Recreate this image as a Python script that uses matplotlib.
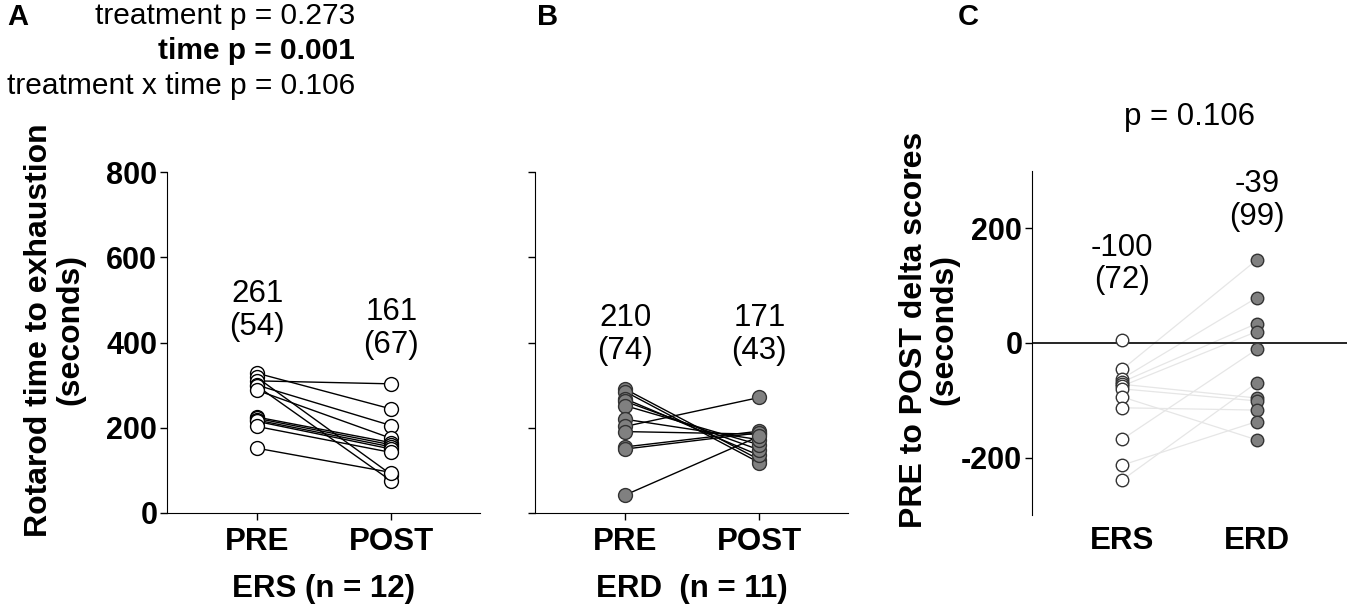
import matplotlib
matplotlib.use("Agg")
import matplotlib.pyplot as plt
import numpy as np

plt.rcParams['font.family'] = ['Liberation Sans', 'DejaVu Sans']
plt.rcParams['axes.unicode_minus'] = False

# ---- data ----
timepoints = ["PRE", "POST"]

ers_pre = [328, 318, 310, 300, 298, 288, 225, 222, 218, 215, 203, 152]
ers_post = [244, 90, 303, 205, 75, 175, 165, 160, 155, 150, 142, 95]

erd_pre = [291, 285, 268, 262, 252, 220, 203, 191, 155, 150, 42]
erd_post = [125, 118, 135, 148, 160, 172, 271, 185, 192, 188, 180]

ers_summary = ["261\n(54)", "161\n(67)"]
ers_summary_y = [475, 433]
erd_summary = ["210\n(74)", "171\n(43)"]
erd_summary_y = [419, 419]

groups = ["ERS", "ERD"]
ers_delta = [6, -46, -62, -68, -72, -75, -80, -94, -113, -168, -213, -239]
erd_delta = [145, 79, 34, 20, -11, -69, -96, -101, -117, -137, -169]
delta_pairs = [(1, 0), (2, 1), (3, 2), (5, 3), (9, 4), (4, 6), (6, 7),
               (7, 10), (8, 8), (10, 9), (11, 5)]
delta_summary = ["-100\n(72)", "-39\n(99)"]
delta_summary_y = [138, 248]

stats_lines = ["treatment p = 0.273", "time p = 0.001", "treatment x time p = 0.106"]
delta_p = "p = 0.106"

W, H = 1350, 609
fig = plt.figure(figsize=(W / 100, H / 100), dpi=100)

FS = 22.5       # general text size
TICK_FS = 22    # y tick labels


def box(l, t, r, b):
    return [l / W, (H - b) / H, (r - l) / W, (b - t) / H]


open_style = dict(marker='o', ms=10, mfc='white', mec='black', mew=1.0)
grey_style = dict(marker='o', ms=10, mfc='#808080', mec='#333333', mew=1.0)


def paired_panel(ax, pre, post, style, labels, label_y, show_ylabels):
    for a, b in zip(pre, post):
        ax.plot([0, 1], [a, b], color='black', lw=1.0, zorder=2)
    ax.plot(np.zeros(len(pre)), pre, ls='none', zorder=3, **style)
    ax.plot(np.ones(len(post)), post, ls='none', zorder=3, **style)
    for i, (txt, yy) in enumerate(zip(labels, label_y)):
        ax.text(i, yy, txt, ha='center', va='center', fontsize=FS, linespacing=1.12)
    ax.set_xlim(-0.67, 1.66)
    ax.set_ylim(0, 800)
    ax.set_yticks([0, 200, 400, 600, 800])
    ax.set_xticks([0, 1])
    ax.set_xticklabels(timepoints, fontsize=FS, fontweight='bold')
    ax.spines[['top', 'right']].set_visible(False)
    ax.tick_params(axis='y', length=5, width=1, pad=2)
    ax.tick_params(axis='x', length=5, width=1, pad=5)
    if show_ylabels:
        for t in ax.get_yticklabels():
            t.set_fontsize(TICK_FS)
            t.set_fontweight('bold')
    else:
        ax.set_yticklabels([])


# Panel A
axA = fig.add_axes(box(167, 172, 480, 513))
paired_panel(axA, ers_pre, ers_post, open_style, ers_summary, ers_summary_y, True)
axA.set_ylabel("Rotarod time to exhaustion\n(seconds)", fontsize=23,
               fontweight='bold', linespacing=1.05)
axA.yaxis.set_label_coords(-0.262, 0.537)
axA.set_xlabel("ERS (n = 12)", fontsize=FS, fontweight='bold', labelpad=12)

# Panel B
axB = fig.add_axes(box(535, 172, 848, 513))
paired_panel(axB, erd_pre, erd_post, grey_style, erd_summary, erd_summary_y, False)
axB.set_xlabel("ERD  (n = 11)", fontsize=FS, fontweight='bold', labelpad=12)

# Panel C
axC = fig.add_axes(box(1032, 171, 1347, 515))
for i, j in delta_pairs:
    axC.plot([0, 1], [ers_delta[i], erd_delta[j]], color='#e6e6e6', lw=0.9, zorder=1)
axC.axhline(0, color='black', lw=1.2, zorder=2)
axC.plot(np.zeros(len(ers_delta)), ers_delta, ls='none', zorder=3,
         marker='o', ms=9, mfc='white', mec='#333333', mew=1.0)
axC.plot(np.ones(len(erd_delta)), erd_delta, ls='none', zorder=3,
         marker='o', ms=9, mfc='#808080', mec='#333333', mew=1.0)
for i, (txt, yy) in enumerate(zip(delta_summary, delta_summary_y)):
    axC.text(i, yy, txt, ha='center', va='center', fontsize=FS, linespacing=1.12)
axC.set_xlim(-0.67, 1.67)
axC.set_ylim(-300, 300)
axC.set_yticks([-200, 0, 200])
axC.set_xticks([0, 1])
axC.set_xticklabels(groups, fontsize=FS, fontweight='bold')
for t in axC.get_yticklabels():
    t.set_fontsize(TICK_FS)
    t.set_fontweight('bold')
axC.spines[['top', 'right', 'bottom']].set_visible(False)
axC.tick_params(axis='y', length=5, width=1, pad=2)
axC.tick_params(axis='x', length=0, pad=8)
axC.set_ylabel("PRE to POST delta scores\n(seconds)", fontsize=23,
               fontweight='bold', linespacing=1.05)
axC.yaxis.set_label_coords(-0.229, 0.538)
axC.set_title(delta_p, fontsize=FS, pad=33)

# panel letters and stats text
fig.text(7 / W, 1 - 17 / H, "A", fontsize=21, fontweight='bold', va='center', ha='left')
fig.text(537 / W, 1 - 17 / H, "B", fontsize=21, fontweight='bold', va='center', ha='left')
fig.text(958 / W, 1 - 17 / H, "C", fontsize=21, fontweight='bold', va='center', ha='left')
for k, (line, yy) in enumerate(zip(stats_lines, [16, 51, 86])):
    fig.text(355 / W, 1 - yy / H, line, fontsize=21.5, ha='right', va='center',
             fontweight='bold' if k == 1 else 'normal')

fig.savefig("out.png", dpi=100)
